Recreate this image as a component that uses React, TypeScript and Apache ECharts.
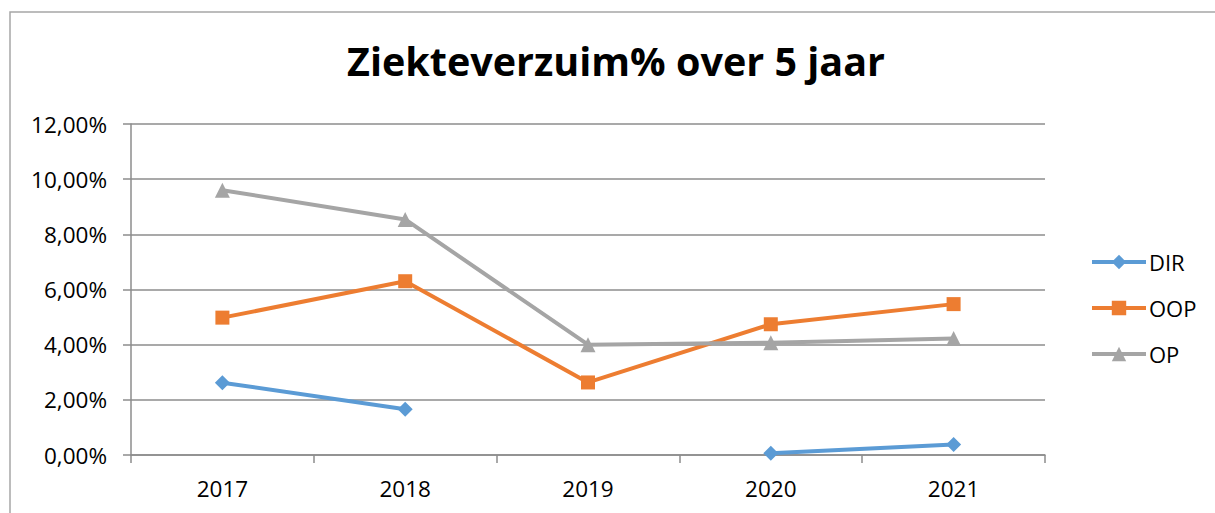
import React, { useEffect, useRef } from "react";
import * as echarts from "echarts";

const years = ["2017", "2018", "2019", "2020", "2021"];
const dirValues: (number | null)[] = [2.62, 1.66, null, 0.06, 0.38];
const oopValues = [4.98, 6.3, 2.63, 4.74, 5.47];
const opValues = [9.6, 8.54, 4.0, 4.07, 4.22];
const seriesNames = ["DIR", "OOP", "OP"];
const colors = ["#5B9BD5", "#ED7D31", "#A5A5A5"];
const symbols = ["diamond", "rect", "triangle"];

const FONT = "'Open Sans', 'Noto Sans', sans-serif";

export default function App() {
  const ref = useRef<HTMLDivElement>(null);
  useEffect(() => {
    if (!ref.current) return;
    const chart = echarts.init(ref.current, undefined, { renderer: "svg" });
    const data = [dirValues, oopValues, opValues];
    chart.setOption({
      animation: false,
      backgroundColor: "#ffffff",
      title: {
        text: "Ziekteverzuim% over 5 jaar",
        left: 611,
        textAlign: "center",
        top: 36,
        textStyle: {
          fontFamily: FONT,
          fontWeight: "bold",
          fontSize: 39.5,
          color: "#000000",
        },
      },
      graphic: [
        {
          type: "rect",
          shape: { x: 10, y: 12, width: 1230, height: 520 },
          style: { fill: "none", stroke: "#a6a6a6", lineWidth: 1.5 },
          silent: true,
          z: -1,
        },
      ],
      legend: {
        orient: "vertical",
        left: 1085,
        top: 246,
        itemGap: 24,
        itemWidth: 54,
        itemHeight: 18,
        data: seriesNames,
        lineStyle: { width: 4 },
        textStyle: { fontFamily: FONT, fontSize: 22, color: "#000", padding: [0, 0, 0, -2] },
      },
      grid: { left: 131, right: 170, top: 124, bottom: 58 },
      xAxis: {
        type: "category",
        data: years,
        boundaryGap: true,
        axisLine: { lineStyle: { color: "#8c8c8c", width: 1.5 } },
        axisTick: { show: true, length: 8, lineStyle: { color: "#8c8c8c", width: 1.5 } },
        axisLabel: { fontFamily: FONT, fontSize: 22.5, color: "#000", margin: 22 },
      },
      yAxis: {
        type: "value",
        min: 0,
        max: 12,
        interval: 2,
        axisLine: { show: true, lineStyle: { color: "#8c8c8c", width: 1.5 } },
        axisTick: { show: true, length: 8, lineStyle: { color: "#8c8c8c", width: 1.5 } },
        splitLine: { show: true, lineStyle: { color: "#8c8c8c", width: 1.5 } },
        axisLabel: {
          fontFamily: FONT,
          fontSize: 22.5,
          color: "#000",
          margin: 24,
          formatter: (v: number) => v.toFixed(2).replace(".", ",") + "%",
        },
      },
      series: seriesNames.map((name, i) => ({
        name,
        type: "line",
        data: data[i],
        connectNulls: false,
        symbol: symbols[i],
        symbolSize: i === 1 ? 14 : 15,
        lineStyle: { color: colors[i], width: 4 },
        itemStyle: { color: colors[i] },
      })),
    });
    return () => chart.dispose();
  }, []);
  return <div ref={ref} style={{ width: 1215, height: 513, position: "absolute", left: 0, top: 0 }} />;
}
